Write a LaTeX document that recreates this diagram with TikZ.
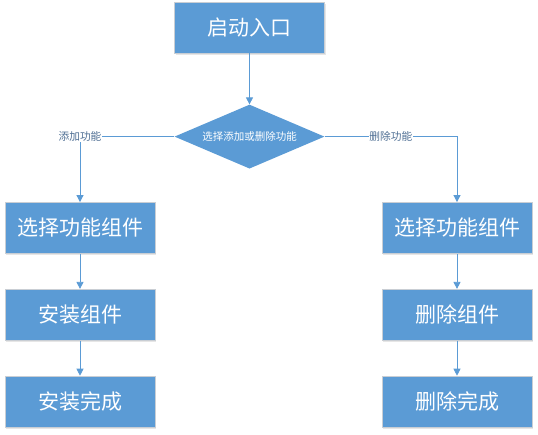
\documentclass[tikz,border=0pt]{standalone}
\usepackage{fontspec}
\setmainfont{Noto Sans CJK SC}
\usepackage{xcolor}
\usetikzlibrary{positioning, arrows.meta, shapes.geometric, shadows}
\definecolor{flowBlue}{HTML}{5B9BD5}
\definecolor{flowEdge}{HTML}{C9CED4}
\definecolor{flowLabel}{HTML}{4F6F94}

\begin{document}
\begin{tikzpicture}[node distance=35pt,
    box/.style={draw=flowEdge, line width=0.8pt, fill=flowBlue, text=white,
      font=\fontsize{21}{23}\selectfont, minimum width=150pt, minimum height=51pt,
      inner sep=0pt, drop shadow={opacity=0.2, shadow xshift=1pt, shadow yshift=-1.5pt}},
    choice/.style={diamond, fill=flowBlue, text=white, font=\fontsize{10.5}{12}\selectfont,
      minimum width=150pt, minimum height=64pt, aspect=2.34, inner sep=0pt},
    lbl/.style={fill=white, text=flowLabel, font=\fontsize{10.7}{12}\selectfont, inner sep=0.5pt},
    arr/.style={-{Triangle[length=7pt, width=7pt]}, line width=0.8pt, flowBlue}]
    \useasboundingbox (0,0) rectangle (538pt,-434pt);
    \node[box] (start) at (249.5pt,-27.5pt) {启动入口};
    \node[choice, below=51pt of start] (choose) {选择添加或删除功能};
    % add branch
    \node[box] (addpick) at (80pt,-228pt) {选择功能组件};
    \node[box, below=of addpick] (install) {安装组件};
    \node[box, below=of install] (addok) {安装完成};
    % remove branch
    \node[box] (delpick) at (457pt,-228pt) {选择功能组件};
    \node[box, below=of delpick] (remove) {删除组件};
    \node[box, below=of remove] (delok) {删除完成};
    \draw[arr](start)--(choose);
    \draw[arr](choose.west) -| node[lbl, pos=0.5] {添加功能} (addpick);
    \draw[arr](choose.east) -| node[lbl, pos=0.25] {删除功能} (delpick);
    \draw[arr](addpick)--(install);\draw[arr](install)--(addok);
    \draw[arr](delpick)--(remove);\draw[arr](remove)--(delok);
  \end{tikzpicture}
\end{document}
